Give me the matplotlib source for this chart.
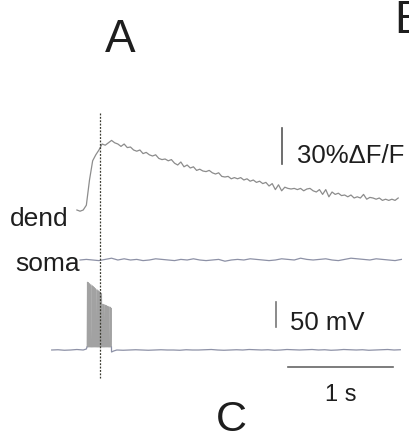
import numpy as np
import matplotlib.pyplot as plt

plt.rcParams['font.family'] = ['Liberation Sans', 'DejaVu Sans']

# dendritic calcium signal (% dF/F), sampled every 30 ms from -0.22 s
dend_t0, dend_dt = -0.22, 0.03
dend_dff = [0, -1, 0, 4, 25, 41, 46, 50, 55, 54, 56, 58, 56, 55, 53, 55, 52, 52.5,
            50, 49, 50, 47, 48, 46, 45, 46, 43, 42, 42.5, 41, 42, 39, 37.5, 40, 36,
            37.5, 35, 36, 33, 34, 32.5, 32, 33, 31, 30, 31, 28, 27.5, 28, 26, 27, 26,
            27, 25, 26, 24, 25, 23, 24, 22, 23, 20, 22, 17, 21, 16, 19, 18, 17.5, 18,
            17, 18, 16, 17.5, 18, 16, 15, 17, 13, 17, 11, 15, 13, 14, 12, 12.5, 11,
            12.5, 10, 11, 10, 13, 9, 10.5, 10, 9, 10, 8, 9, 8, 9, 8, 10]

# somatic calcium signal (% dF/F), every 60 ms from -0.19 s
soma_t0, soma_dt = -0.19, 0.06
soma_dff = [0, 0.5, 0, -0.5, 0.5, 1.5, 0, 1, 0, 0.5, -0.5, 0, 1, 0.5, 0, -0.5, 0.5,
            0, 1, 0, -0.5, 0, 0.5, -1, 0, 0.5, 0, 1, 0.5, 0, -0.5, 0, 1, 0.5, 0, 1.5,
            0.5, 0, 0.5, 1, 0, -0.5, 0.5, 1.5, 1, 0.5, 0, 1, 0.5, 0, -0.5, 0.5]

# membrane potential (mV relative to rest)
vm_pre_t = [-0.46, -0.40, -0.34, -0.28, -0.22, -0.16, -0.13]
vm_pre = [0, 0.5, -0.5, 0, 1, 0, 2]
spike_t = [-0.124, -0.113, -0.101, -0.090, -0.078, -0.067, -0.055, -0.044, -0.032,
           -0.021, -0.010, 0.002, 0.013, 0.025, 0.036, 0.048, 0.059, 0.071, 0.082,
           0.094, 0.103]
spike_peak = [136, 135, 133, 131, 129, 127, 125, 123, 121, 119, 117, 116, 113, 92,
              91, 90, 89, 88, 87, 86, 84]
spike_trough = 6
vm_post_t = [0.11, 0.13, 0.16, 0.22, 0.28, 0.34, 0.40, 0.46, 0.52, 0.58, 0.64, 0.70,
             0.76, 0.82, 0.88, 0.94, 1.00, 1.06, 1.12, 1.18, 1.24, 1.30, 1.36, 1.42,
             1.48, 1.54, 1.60, 1.66, 1.72, 1.78, 1.84, 1.90, 1.96, 2.02, 2.08, 2.14,
             2.20, 2.26, 2.32, 2.38, 2.44, 2.50, 2.56, 2.62, 2.68, 2.74, 2.80, 2.86]
vm_post = [-4, -2, 0, -0.5, 0, 0.5, 0, -0.5, 0, 0.5, 0, 0, -0.5, 0.5, 0, 0, 0.5, 1,
           0, -0.5, 0, 0.5, 0, 1, 0.5, 0, 0.5, -0.5, 0, 1, 0.5, 0, 0.5, 1, 0, 0.5,
           -0.5, 0, 1, 0.5, 0, 0.5, -0.5, 0, 0.5, 1, 0, 0.5]

# layout (rows counted from the top of the figure)
W, H = 409, 441
T_AT_PX0, PX_PER_S = 100, 105
DEND_ROW, DEND_GAIN = 210, 1.2   # px per % dF/F
SOMA_ROW = 260
VM_ROW, VM_GAIN = 350, 0.5       # px per mV

fig = plt.figure(figsize=(W / 100, H / 100), dpi=100)
ax = fig.add_axes([0, 0, 1, 1])
ax.set_xlim(-T_AT_PX0 / PX_PER_S, (W - T_AT_PX0) / PX_PER_S)
ax.set_ylim(H, 0)
ax.axis('off')

trace_col = '#8d91a6'

dend_t = dend_t0 + dend_dt * np.arange(len(dend_dff))
ax.plot(dend_t, DEND_ROW - np.array(dend_dff) * DEND_GAIN, color='#8c8c8c', lw=0.9)

soma_t = soma_t0 + soma_dt * np.arange(len(soma_dff))
ax.plot(soma_t, SOMA_ROW - np.array(soma_dff) * DEND_GAIN, color=trace_col, lw=0.9)

# burst of spikes
bt, bv = [], []
for t, p in zip(spike_t, spike_peak):
    bt += [t, t + 0.003, t + 0.006]
    bv += [spike_trough, p, spike_trough]
bt, bv = np.array(bt), np.array(bv)
ax.fill_between(bt, VM_ROW - spike_trough * VM_GAIN, VM_ROW - bv * VM_GAIN,
                color='#d2d2d2', lw=0)
ax.plot(bt, VM_ROW - bv * VM_GAIN, color='#a2a2a2', lw=0.5)

vm_t = np.concatenate([vm_pre_t, [spike_t[0]], [bt[-1]], vm_post_t])
vm_v = np.concatenate([vm_pre, [spike_trough], [spike_trough], vm_post])
ax.plot(vm_t[:len(vm_pre_t) + 1], VM_ROW - vm_v[:len(vm_pre_t) + 1] * VM_GAIN,
        color=trace_col, lw=0.9)
ax.plot(vm_t[len(vm_pre_t) + 1:], VM_ROW - vm_v[len(vm_pre_t) + 1:] * VM_GAIN,
        color=trace_col, lw=0.9)

# stimulus marker
ax.plot([0, 0], [113, 378], color='#3a3a30', lw=0.9, dashes=(1.5, 1.2))

# scale bars
ax.plot([1.733, 1.733], [164, 164 - 30 * DEND_GAIN], color='#555555', lw=1.2)
ax.plot([1.676, 1.676], [327, 327 - 50 * VM_GAIN], color='#777777', lw=1.2)
ax.plot([1.79, 1.79 + 1.0], [367, 367], color='#666666', lw=1.2)

def label(x, y, s, size, ha='left'):
    fig.text(x / W, 1 - y / H, s, fontsize=size, ha=ha, va='baseline', color='#1e1e1e')

label(297, 163, '30%\u0394F/F', 18.5)
label(290, 330, '50 mV', 18.5)
label(325, 401, '1 s', 17)
label(10, 226, 'dend', 19)
label(15, 271, 'soma', 19)
label(120, 52, 'A', 33, ha='center')
label(394, 33, 'B', 33)
label(231, 431, 'C', 31, ha='center')

fig.savefig('out.png', dpi=100)
